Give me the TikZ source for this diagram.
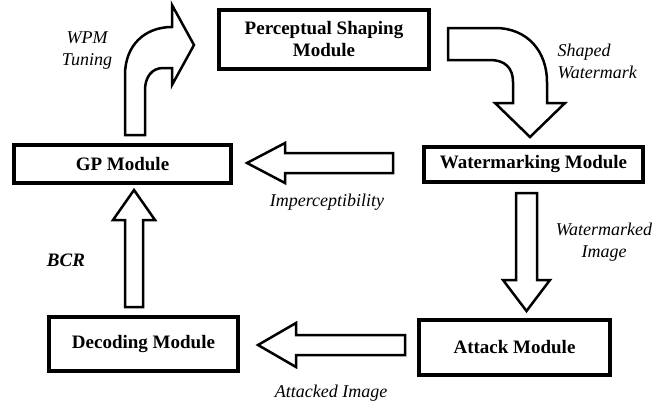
\documentclass[tikz,border=0pt]{standalone}
\usepackage{fontspec}
\setmainfont{Liberation Serif}
\begin{document}
\begin{tikzpicture}[x=1pt,y=-1pt,
        module/.style={draw,line width=4pt,align=center,
            font=\fontsize{19}{22}\selectfont\bfseries},
        blockarrow/.style={draw,line width=2.5pt,fill=white,line join=miter},
        lbl/.style={align=center,font=\fontsize{18}{22}\selectfont\itshape}]
            \useasboundingbox (0,0) rectangle (658,407);
            % modules
            \node[module,minimum width=210pt,minimum height=59pt] (ps) at (324,39.5) {Perceptual Shaping\\Module};
            \node[module,minimum width=219pt,minimum height=35pt] (wm) at (533.5,164.5) {Watermarking Module};
            \node[module,minimum width=217pt,minimum height=38pt] (gp) at (122.5,164) {GP Module};
            \node[module,minimum width=189pt,minimum height=54pt] (dec) at (143.5,344) {Decoding Module};
            \node[module,minimum width=191pt,minimum height=55pt] (att) at (514.5,347.5) {Attack Module};
            % block arrows
            \draw[blockarrow] (125,135) -- (125,75) .. controls (125,45) and (145,27) .. (172,27)
                -- (172,5) -- (194,45) -- (172,85) -- (172,68) -- (163,68)
                .. controls (152,68) and (145,77) .. (145,90) -- (145,135) -- cycle;
            \draw[blockarrow] (448,28) -- (495,28) .. controls (528,28) and (547,52) .. (547,82)
                -- (547,103) -- (565,103) -- (530,137) -- (495,103) -- (513,103) -- (513,82)
                .. controls (513,68) and (505,60) .. (490,60) -- (448,60) -- cycle;
            \draw[blockarrow] (516,193) -- (537,193) -- (537,280) -- (550,280) -- (526.5,311)
                -- (503,280) -- (516,280) -- cycle;
            \draw[blockarrow] (393,153) -- (393,173) -- (285,173) -- (285,183) -- (247,163)
                -- (285,143) -- (285,153) -- cycle;
            \draw[blockarrow] (405,335) -- (405,355) -- (296,355) -- (296,367) -- (258,345)
                -- (296,323) -- (296,335) -- cycle;
            \draw[blockarrow] (125,307) -- (125,220) -- (113,220) -- (134,190) -- (155,220)
                -- (143,220) -- (143,307) -- cycle;
            % labels
            \node[lbl] (wpm) at (87,51) {WPM\\Tuning};
            \node[lbl,anchor=west,align=left] (shw) at (554,61.5) {Shaped\\Watermark};
            \node[lbl] (wmi) at (604,242.5) {Watermarked\\Image};
            \node[lbl] (imp) at (327,202) {Imperceptibility};
            \node[lbl] (ati) at (331,393) {Attacked Image};
            \node[lbl,font=\fontsize{19}{22}\selectfont\bfseries\itshape] (bcr) at (66,260) {BCR};
        \end{tikzpicture}
\end{document}
